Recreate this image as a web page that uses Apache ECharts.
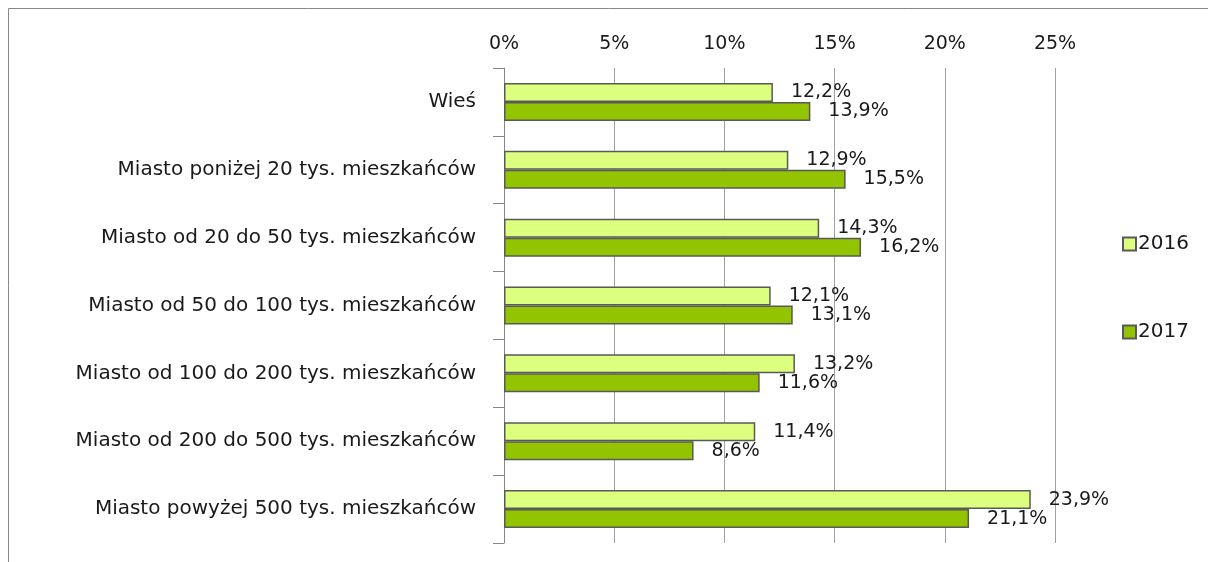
<!DOCTYPE html>
<html><head><meta charset="utf-8">
<script src="https://cdn.jsdelivr.net/npm/echarts@6/dist/echarts.min.js"></script>
<style>html,body{margin:0;padding:0;background:#fff}#c{width:1208px;height:562px}</style>
</head><body><div id="c"></div>
<script>
const categories = ['Wieś','Miasto poniżej 20 tys. mieszkańców','Miasto od 20 do 50 tys. mieszkańców','Miasto od 50 do 100 tys. mieszkańców','Miasto od 100 do 200 tys. mieszkańców','Miasto od 200 do 500 tys. mieszkańców','Miasto powyżej 500 tys. mieszkańców'];
const values2016 = [12.2, 12.9, 14.3, 12.1, 13.2, 11.4, 23.9];
const values2017 = [13.9, 15.5, 16.2, 13.1, 11.6, 8.6, 21.1];
const xTicks = [0, 5, 10, 15, 20, 25];

const FONT = 'DejaVu Sans';
const FS = 19;
const TXT = '#1a1a1a';
const chart = echarts.init(document.getElementById('c'));
const fmt = p => p.value.toFixed(1).replace('.', ',') + '%';
const lbl = {show:true, position:'right', distance:18, formatter:fmt, color:TXT, fontSize:FS, fontFamily:FONT};
chart.setOption({
  animation:false,
  graphic:[{type:'rect', shape:{x:8.5,y:8.5,width:1400,height:800}, style:{fill:'none', stroke:'#888', lineWidth:1}, silent:true}],
  grid:{left:504, right:153, top:68, bottom:19},
  legend:{orient:'vertical', left:1122, top:234, padding:0, itemGap:68, itemWidth:13, itemHeight:13,
    textStyle:{fontSize:20, fontFamily:FONT, color:TXT, padding:[0,0,0,-3]},
    data:[{name:'2016', icon:'rect'},{name:'2017', icon:'rect'}]},
  xAxis:{type:'value', position:'top', min:xTicks[0], max:xTicks[xTicks.length-1], interval:5,
    axisLine:{show:false}, axisTick:{show:false},
    axisLabel:{formatter:'{value}%', fontSize:FS, fontFamily:FONT, color:TXT, margin:14},
    splitLine:{show:true, lineStyle:{color:'#a0a0a0', width:1}}},
  yAxis:{type:'category', inverse:true, data:categories,
    axisLine:{show:true, lineStyle:{color:'#868686', width:1}},
    axisTick:{show:true, length:11, inside:false, lineStyle:{color:'#868686'}},
    axisLabel:{fontSize:20, fontFamily:FONT, color:TXT, margin:28}},
  series:[
    {name:'2016', type:'bar', data:values2016, barWidth:19, barGap:'0%',
      itemStyle:{color:'#DDFF80', borderColor:'#595959', borderWidth:1.5}, label:lbl},
    {name:'2017', type:'bar', data:values2017, barWidth:19, barGap:'0%',
      itemStyle:{color:'#92C400', borderColor:'#595959', borderWidth:1.5}, label:lbl}
  ]
});
</script></body></html>
